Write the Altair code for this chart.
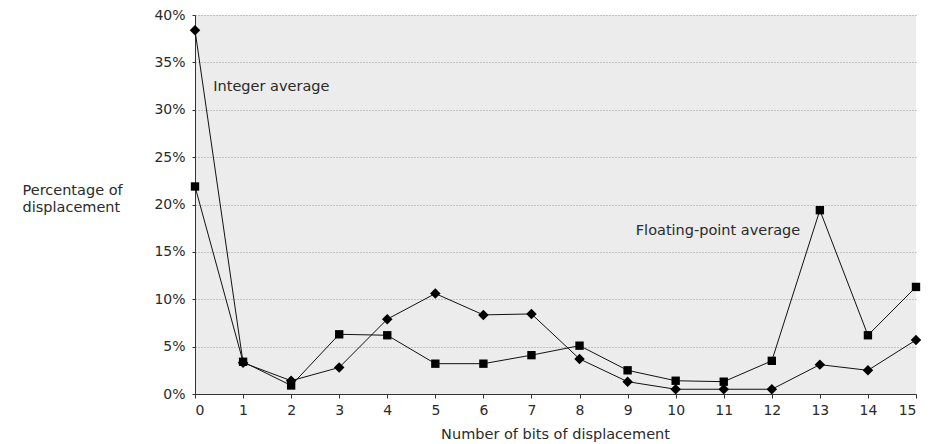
import altair as alt
import pandas as pd

bits = list(range(16))
integer_avg = [38.4, 3.3, 1.4, 2.8, 7.9, 10.6, 8.35, 8.45, 3.7, 1.3, 0.5, 0.5, 0.5, 3.1, 2.5, 5.7]
float_avg = [21.9, 3.4, 0.9, 6.3, 6.2, 3.2, 3.2, 4.1, 5.1, 2.5, 1.4, 1.3, 3.5, 19.4, 6.2, 11.3]
y_ticks = [0, 5, 10, 15, 20, 25, 30, 35, 40]

labels = ["Integer average", "Floating-point average"]
label_x = [0.38, 9.17]
label_y = [32.4, 17.2]

FONT = "DejaVu Sans"
TXT = "#2a2a2a"

df_int = pd.DataFrame({"bits": bits, "pct": integer_avg})
df_fp = pd.DataFrame({"bits": bits, "pct": float_avg})
df_lab = pd.DataFrame({"label": labels, "x": label_x, "y": label_y})

x_enc = alt.X(
    "bits:Q",
    scale=alt.Scale(domain=[0, 15], nice=False, zero=False),
    axis=alt.Axis(
        values=bits, title="Number of bits of displacement", grid=False,
        labelFontSize=14, labelColor=TXT, labelPadding=5,
        tickSize=4, tickColor="#333", domainColor="#333",
        titleFontSize=14.5, titleFontWeight="normal", titleColor=TXT,
        titlePadding=10, titleX=360, labelFont=FONT, titleFont=FONT,
    ),
)
y_enc = alt.Y(
    "pct:Q",
    scale=alt.Scale(domain=[0, 40], nice=False),
    axis=alt.Axis(
        values=y_ticks, title=["Percentage of", "displacement"],
        labelExpr="datum.value + '%'",
        grid=True, gridDash=[1, 2], gridColor="#999", gridWidth=1,
        labelFontSize=14, labelColor=TXT, labelPadding=7,
        tickSize=3, tickColor="#333", domainColor="#333",
        titleAngle=0, titleAlign="left", titleBaseline="top",
        titleX=-173, titleY=168, titleFontSize=14.5, titleFontWeight="normal",
        titleColor=TXT, labelFont=FONT, titleFont=FONT, titleLineHeight=17,
    ),
)

line_int = alt.Chart(df_int).mark_line(color="#111", strokeWidth=1).encode(x=x_enc, y=y_enc)
pts_int = alt.Chart(df_int).mark_point(shape="diamond", filled=True, color="#000", size=110, opacity=1).encode(x="bits:Q", y="pct:Q")
line_fp = alt.Chart(df_fp).mark_line(color="#111", strokeWidth=1).encode(x="bits:Q", y="pct:Q")
pts_fp = alt.Chart(df_fp).mark_point(shape="square", filled=True, color="#000", size=70, opacity=1).encode(x="bits:Q", y="pct:Q")
txt = alt.Chart(df_lab).mark_text(align="left", baseline="middle", fontSize=14.5, font=FONT, color=TXT).encode(
    x="x:Q", y="y:Q", text="label:N")

chart = alt.layer(line_fp, line_int, pts_fp, pts_int, txt).properties(
    width=721, height=379,
    padding={"left": 14, "top": 0, "right": 5, "bottom": 5},
).configure_view(fill="#ececec", stroke=None)

chart.save("out.html", embed_options={"renderer": "svg", "actions": False})
